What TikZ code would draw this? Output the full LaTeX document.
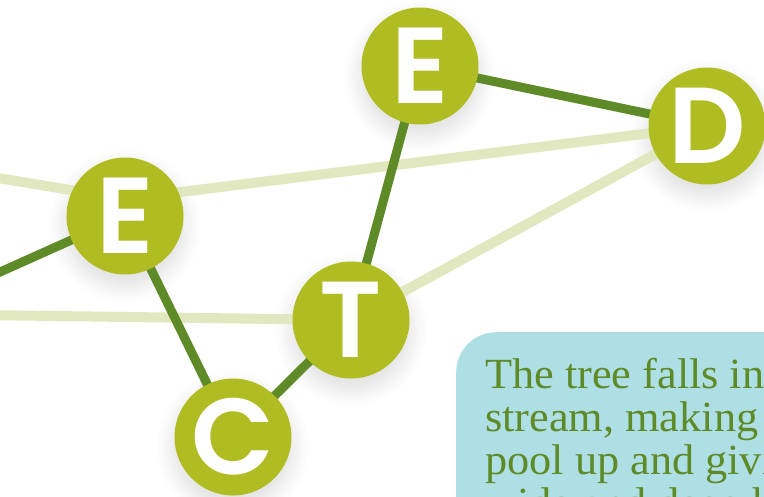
\documentclass[tikz,border=0pt]{standalone}
\usepackage{fontspec}
\setmainfont{Liberation Serif}[FakeStretch=1.03]
\newfontfamily\lett{Poppins}[UprightFont=* SemiBold]
\usetikzlibrary{shadows.blur,backgrounds}
\pgfdeclarelayer{shadowlayer}
\pgfsetlayers{shadowlayer,background,main}
\definecolor{nodefill}{HTML}{B0BD22}
\definecolor{darkedge}{HTML}{5E8A27}
\definecolor{lightedge}{HTML}{E1E8BF}
\definecolor{boxblue}{HTML}{AEDFE5}
\definecolor{textgreen}{HTML}{5E8A27}
\begin{document}
\begin{tikzpicture}[x=1pt,y=-1pt,
  letter/.style={circle,fill=nodefill,minimum size=117pt,inner sep=0pt,text=white,
    font=\lett\fontsize{108}{108}\selectfont},
  nodeshadow/.style={blur shadow={shadow xshift=0pt,shadow yshift=-10pt,shadow opacity=14,shadow blur radius=18pt,shadow blur steps=16}},
  darkline/.style={draw=darkedge,line width=9pt},
  lightline/.style={draw=lightedge,line width=10pt},
  infobox/.style={fill=boxblue,rounded corners=40pt,minimum width=400pt,minimum height=250pt,inner sep=0pt},
  infotext/.style={align=left,text=textgreen,inner sep=0pt,font=\fontsize{43}{43}\selectfont}]
\path[use as bounding box] (0,0) rectangle (764,496);
\clip (0,0) rectangle (764,496);
\node[letter] (E2) at (420,66) {E};
\node[letter] (D) at (707,126) {D};
\node[letter] (E1) at (125,216) {E};
\node[letter] (T) at (351,320) {T};
\node[letter] (C) at (233,437) {C};
\coordinate (L1) at (-20,175);
\coordinate (E1top) at (125,199);
\coordinate (L2) at (-20,281);
\coordinate (L3) at (-20,315);
\begin{pgfonlayer}{shadowlayer}
  \foreach \n in {E2,D,E1,T,C}
    \path[nodeshadow] (\n.center) circle[radius=58.5pt];
\end{pgfonlayer}
\begin{scope}[on background layer]
  \draw[lightline] (L1) -- (E1top) -- (D.center);
  \draw[lightline] (L3) -- (T.center);
  \draw[lightline] (T.center) -- (D.center);
  \draw[darkline] (L2) -- (E1.center);
  \draw[darkline] (E1.center) -- (C.center);
  \draw[darkline] (C.center) -- (T.center);
  \draw[darkline] (T.center) -- (E2.center);
  \draw[darkline] (E2.center) -- (D.center);
\end{scope}
\node[infobox,anchor=north west] (box) at (456,332) {};
\node[infotext,anchor=base west] (txt) at (485,517) {The tree falls into the\\stream, making the water\\pool up and giving\\wide and deep habitats};
\end{tikzpicture}
\end{document}
